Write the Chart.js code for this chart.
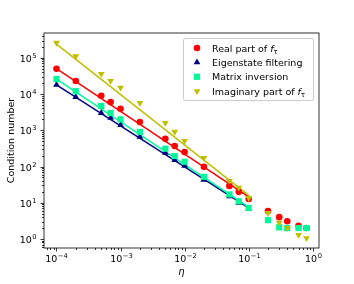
<!DOCTYPE html>
<html>
<head>
<meta charset="utf-8">
<script src="https://cdn.jsdelivr.net/npm/chart.js@4.4.0/dist/chart.umd.min.js"></script>
<style>
  html, body { margin: 0; padding: 0; background: #fff; }
</style>
</head>
<body>
<canvas id="chart" width="354" height="284"></canvas>
<script>
// eta values (x) for the measured points
const etaValues = [1e-4, 2e-4, 5e-4, 7e-4, 1e-3, 2e-3, 5e-3, 7e-3, 1e-2, 2e-2, 5e-2, 7e-2, 1e-1, 2e-1, 3e-1, 4e-1, 6e-1, 8e-1];

// condition numbers
const realPart = [5.0e4, 2.3e4, 9.0e3, 6.0e3, 3.9e3, 1.7e3, 580, 370, 250, 98, 29, 20, 12.7, 5.9, 4.0, 3.1, 2.3, 2.0];
const eigenFiltering = [1.8e4, 8.3e3, 3.0e3, 2.2e3, 1.4e3, 660, 240, 150, 105, 43, 15, 10, 6.8];
const matrixInversion = [2.6e4, 1.2e4, 4.7e3, 3.0e3, 2.0e3, 900, 310, 195, 135, 52, 17, 11, 7.2, 3.3, 2.1, 2.0, 2.0, 2.0];
const imagPart = [2.6e5, 1.1e5, 3.6e4, 2.3e4, 1.5e4, 5.7e3, 1.6e3, 910, 510, 173, 40, 26, 13.5, 5.2, 2.8, 2.0, 1.3, 1.05];

// power-law fit lines (end points)
const fitEta = [1e-4, 1e-1];
const realFit = [5.0e4, 14.5];
const eigenFit = [1.8e4, 7.2];
const matrixFit = [2.6e4, 7.6];
const imagFit = [2.4e5, 16];

// axis limits (log10)
const xLogRange = [-4.195, 0.098];
const yLogRange = [-0.249, 5.685];

const RED = "#ff0000";
const NAVY = "#000080";
const GREEN = "#00fa9a";
const OLIVE = "#bfbf00";
const FONT = "DejaVu Sans";

const CIRCLE_R = 3.3;
const TRI_R = 3.9;
const RECT_R = 4.4;

function toPoints(xs, ys) {
    return ys.map((y, i) => ({ x: xs[i], y: y }));
}

const legendItems = [
    { parts: ["Real part of ", "f", "τ"], color: RED, style: "circle", radius: CIRCLE_R, rotation: 0 },
    { parts: ["Eigenstate filtering"], color: NAVY, style: "triangle", radius: TRI_R, rotation: 0 },
    { parts: ["Matrix inversion"], color: GREEN, style: "rect", radius: RECT_R, rotation: 0 },
    { parts: ["Imaginary part of ", "f", "τ"], color: OLIVE, style: "triangle", radius: TRI_R, rotation: 180 },
];

function drawPow(ctx, exp, x, y, align) {
    // "10" with a superscript exponent; x is anchor, y is baseline
    ctx.font = "9.5px '" + FONT + "'";
    const base = "10";
    const wb = ctx.measureText(base).width;
    ctx.font = "6.7px '" + FONT + "'";
    const sup = exp < 0 ? "\u2212" + Math.abs(exp) : String(exp);
    const ws = ctx.measureText(sup).width;
    const total = wb + ws + 0.5;
    let x0 = x;
    if (align === "center") x0 = x - total / 2;
    if (align === "right") x0 = x - total;
    ctx.textAlign = "left";
    ctx.textBaseline = "alphabetic";
    ctx.font = "9.5px '" + FONT + "'";
    ctx.fillText(base, x0, y);
    ctx.font = "6.7px '" + FONT + "'";
    ctx.fillText(sup, x0 + wb + 0.5, y - 4);
}

const axesPlugin = {
    id: "axesPlugin",
    afterDraw(chart) {
        const ctx = chart.ctx;
        const area = chart.chartArea;
        const xs = chart.scales.x;
        const ys = chart.scales.y;
        ctx.save();
        ctx.fillStyle = "#000";
        ctx.strokeStyle = "#000";
        ctx.lineWidth = 0.8;

        // frame
        ctx.strokeRect(area.left, area.top, area.right - area.left, area.bottom - area.top);

        // x ticks
        for (let d = Math.floor(xLogRange[0]); d <= Math.ceil(xLogRange[1]); d++) {
            for (let m = 1; m <= 9; m++) {
                const v = m * Math.pow(10, d);
                const lv = Math.log10(v);
                if (lv < xLogRange[0] || lv > xLogRange[1]) continue;
                const px = Math.round(xs.getPixelForValue(v)) + 0.5;
                const len = m === 1 ? 3.5 : 2;
                ctx.beginPath();
                ctx.moveTo(px, area.bottom);
                ctx.lineTo(px, area.bottom + len);
                ctx.stroke();
                if (m === 1) drawPow(ctx, d, px, 262, "center");
            }
        }
        // y ticks
        for (let d = Math.floor(yLogRange[0]); d <= Math.ceil(yLogRange[1]); d++) {
            for (let m = 1; m <= 9; m++) {
                const v = m * Math.pow(10, d);
                const lv = Math.log10(v);
                if (lv < yLogRange[0] || lv > yLogRange[1]) continue;
                const py = Math.round(ys.getPixelForValue(v)) + 0.5;
                const len = m === 1 ? 3.5 : 2;
                ctx.beginPath();
                ctx.moveTo(area.left, py);
                ctx.lineTo(area.left - len, py);
                ctx.stroke();
                if (m === 1) drawPow(ctx, d, area.left - 7.5, py + 3.5, "right");
            }
        }

        // axis titles
        ctx.font = "italic 10px '" + FONT + "'";
        ctx.textAlign = "center";
        ctx.textBaseline = "alphabetic";
        ctx.fillText("\u03b7", (area.left + area.right) / 2, 275);

        ctx.save();
        ctx.translate(12, (area.top + area.bottom) / 2);
        ctx.rotate(-Math.PI / 2);
        ctx.font = "9.5px '" + FONT + "'";
        ctx.textBaseline = "middle";
        ctx.fillText("Condition number", 0, 0);
        ctx.restore();

        // legend
        const bx = 183, by = 38, bw = 130, bh = 62;
        ctx.beginPath();
        ctx.roundRect(bx + 0.5, by + 0.5, bw, bh, 2);
        ctx.fillStyle = "rgba(255,255,255,0.8)";
        ctx.fill();
        ctx.strokeStyle = "#cccccc";
        ctx.lineWidth = 1;
        ctx.stroke();

        legendItems.forEach((item, i) => {
            const ry = 48 + i * 14.4;
            ctx.fillStyle = item.color;
            ctx.strokeStyle = item.color;
            ctx.lineWidth = 0;
            Chart.helpers.drawPoint(ctx, { pointStyle: item.style, radius: item.radius, rotation: item.rotation, borderWidth: 0 }, 197, ry);
            ctx.fillStyle = "#000";
            ctx.textAlign = "left";
            ctx.textBaseline = "alphabetic";
            let tx = 212;
            const base = ry + 3.5;
            ctx.font = "9.5px '" + FONT + "'";
            ctx.fillText(item.parts[0], tx, base);
            tx += ctx.measureText(item.parts[0]).width;
            if (item.parts.length > 1) {
                ctx.font = "italic 9.5px '" + FONT + "'";
                ctx.fillText(item.parts[1], tx, base);
                tx += ctx.measureText(item.parts[1]).width;
                ctx.font = "6.7px '" + FONT + "'";
                ctx.fillText(item.parts[2], tx, base + 2);
            }
        });
        ctx.restore();
    }
};

function pointSet(data, color, style, radius, rotation, order) {
    return {
        data: toPoints(etaValues, data),
        showLine: false,
        pointStyle: style,
        pointRadius: radius,
        rotation: rotation,
        backgroundColor: color,
        borderColor: color,
        borderWidth: 0,
        order: order
    };
}

function fitSet(data, color, order) {
    return {
        data: toPoints(fitEta, data),
        showLine: true,
        pointRadius: 0,
        borderColor: color,
        borderWidth: 1.5,
        fill: false,
        order: order
    };
}

new Chart(document.getElementById("chart").getContext("2d"), {
    type: "scatter",
    data: {
        datasets: [
            fitSet(realFit, RED, 7),
            fitSet(eigenFit, NAVY, 6),
            fitSet(matrixFit, GREEN, 5),
            fitSet(imagFit, OLIVE, 4),
            pointSet(realPart, RED, "circle", CIRCLE_R, 0, 3),
            pointSet(eigenFiltering, NAVY, "triangle", TRI_R, 0, 2),
            pointSet(matrixInversion, GREEN, "rect", RECT_R, 0, 1),
            pointSet(imagPart, OLIVE, "triangle", TRI_R, 180, 0)
        ]
    },
    options: {
        responsive: false,
        animation: false,
        layout: {
            autoPadding: false,
            padding: { left: 44, right: 35, top: 33, bottom: 36 }
        },
        plugins: {
            legend: { display: false },
            tooltip: { enabled: false }
        },
        scales: {
            x: {
                type: "logarithmic",
                display: false,
                min: Math.pow(10, xLogRange[0]),
                max: Math.pow(10, xLogRange[1])
            },
            y: {
                type: "logarithmic",
                display: false,
                min: Math.pow(10, yLogRange[0]),
                max: Math.pow(10, yLogRange[1])
            }
        }
    },
    plugins: [axesPlugin]
});
</script>
</body>
</html>
